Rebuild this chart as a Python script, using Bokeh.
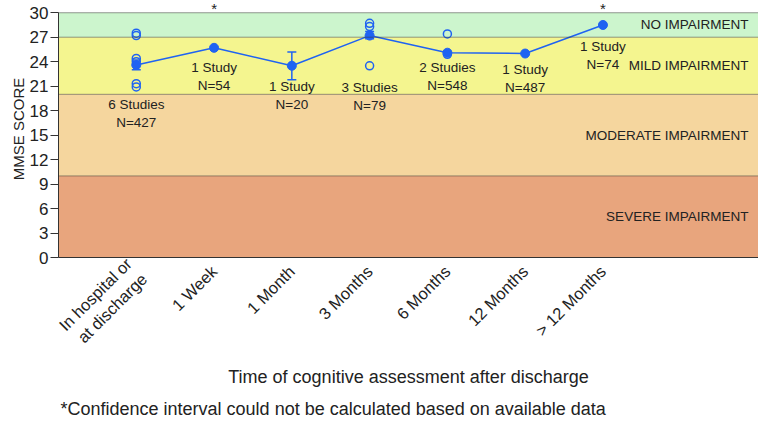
from bokeh.plotting import figure
from bokeh.models import (Range1d, FixedTicker, BoxAnnotation, Span, Whisker,
                          ColumnDataSource, Title)
from bokeh.core.properties import value
from bokeh.embed import file_html
from bokeh.resources import INLINE

# ---------------- data ----------------
categories = ["In hospital or\nat discharge", "1 Week", "1 Month", "3 Months",
              "6 Months", "12 Months", "> 12 Months"]
cat_pos = [1, 2, 3, 4, 5, 6, 7]
mean_score = [23.6, 25.7, 23.5, 27.2, 25.1, 25.0, 28.5]
ci_low = [23.0, None, 21.8, 26.8, None, None, None]
ci_high = [24.2, None, 25.2, 27.7, None, None, None]
study_labels = ["6 Studies\nN=427", "1 Study\nN=54", "1 Study\nN=20", "3 Studies\nN=79",
                "2 Studies\nN=548", "1 Study\nN=487", "1 Study\nN=74"]
label_y = [17.7, 22.2, 19.8, 19.7, 22.2, 22.0, 24.7]
no_ci = [2, 7]  # categories marked with asterisk

# individual study values (open circles)
study_x = [1, 1, 1, 1, 1, 1, 4, 4, 4, 5, 5]
study_val = [27.5, 27.2, 24.4, 24.0, 21.3, 20.9, 28.7, 28.3, 23.5, 27.4, 24.9]

# impairment zones
zone_names = ["NO IMPAIRMENT", "MILD IMPAIRMENT", "MODERATE IMPAIRMENT", "SEVERE IMPAIRMENT"]
zone_low = [27, 20, 10, 0]
zone_high = [30, 27, 20, 10]
zone_colors = ["#ccf5cd", "#f4f58f", "#f5d69e", "#e8a57d"]
zone_lines = [30, 27, 20, 10]

y_ticks = [0, 3, 6, 9, 12, 15, 18, 21, 24, 27, 30]
footnote = "*Confidence interval could not be calculated based on available data"

BLUE = "#1f63f2"
FONT = "Liberation Sans"
TXT = "#222222"

p = figure(width=758, height=424, output_backend="svg", toolbar_location=None,
           x_range=Range1d(0, 9.0), y_range=Range1d(0, 31.5),
           min_border_left=58, min_border_top=0, min_border_right=0,
           min_border_bottom=167)
p.outline_line_color = None
p.grid.visible = False
p.background_fill_color = "white"

for lo, hi, c in zip(zone_low, zone_high, zone_colors):
    p.add_layout(BoxAnnotation(bottom=lo, top=hi, fill_color=c, fill_alpha=1.0,
                               line_color=None, level="underlay"))
for v in zone_lines:
    p.add_layout(Span(location=v, dimension="width", line_color="#333333",
                      line_dash="1 1", line_width=1))

zone_mid = [(a + b) / 2 for a, b in zip(zone_low, zone_high)]
p.text(x=[8.87] * len(zone_names), y=zone_mid, text=zone_names,
       text_align="right", text_baseline="middle", text_font=value(FONT),
       text_font_size="13.5px", text_color=TXT)

# line through means
p.line(cat_pos, mean_score, line_color=BLUE, line_width=1.5)

# CI whiskers
wx = [x for x, l in zip(cat_pos, ci_low) if l is not None]
wl = [l for l in ci_low if l is not None]
wh = [h for h in ci_high if h is not None]
wsrc = ColumnDataSource(dict(x=wx, lower=wl, upper=wh))
w = Whisker(base="x", lower="lower", upper="upper", source=wsrc,
            line_color=BLUE, line_width=1.5)
for head in (w.upper_head, w.lower_head):
    head.size = 9
    head.line_color = BLUE
    head.line_width = 1.5
p.add_layout(w)

# individual studies
p.scatter(study_x, study_val, marker="circle", size=8, fill_color=None,
          line_color=BLUE, line_width=1.5)

# means
p.scatter(cat_pos, mean_score, marker="circle", size=9, fill_color=BLUE,
          line_color=BLUE)

# study labels
p.text(x=cat_pos, y=label_y, text=study_labels, text_align="center",
       text_baseline="middle", text_font=value(FONT), text_font_size="13.5px",
       text_color=TXT, text_line_height=1.2)

# asterisks
p.text(x=no_ci, y=[30.55] * len(no_ci), text=["*"] * len(no_ci), text_align="center",
       text_baseline="middle", text_font=value(FONT), text_font_size="15px",
       text_color=TXT)

# axes
p.yaxis.ticker = FixedTicker(ticks=y_ticks)
p.yaxis.bounds = (0, 30)
p.yaxis.minor_tick_line_color = None
p.yaxis.major_tick_out = 8
p.yaxis.major_tick_in = 0
p.yaxis.axis_label = "MMSE SCORE"
p.yaxis.axis_label_text_font_style = "normal"
p.yaxis.major_tick_line_color = "#333333"
p.yaxis.major_label_standoff = 2
p.yaxis.axis_label_standoff = 0

p.xaxis.ticker = FixedTicker(ticks=cat_pos)
p.xaxis.major_label_overrides = {x: c for x, c in zip(cat_pos, categories)}
p.xaxis.major_label_orientation = 0.785398
p.xaxis.major_tick_line_color = None
p.xaxis.minor_tick_line_color = None
p.xaxis.major_label_standoff = 5
p.xaxis.axis_label = "Time of cognitive assessment after discharge"
p.xaxis.axis_label_text_font_style = "normal"
p.xaxis.axis_label_standoff = 1

for ax in (p.xaxis, p.yaxis):
    ax.axis_line_color = "#333333"
    ax.major_label_text_font = FONT
    ax.axis_label_text_font = FONT
    ax.major_label_text_color = TXT
    ax.axis_label_text_color = TXT
p.xaxis.major_label_text_font_size = "16.5px"
p.xaxis.axis_label_text_font_size = "18px"
p.yaxis.major_label_text_font_size = "17px"
p.yaxis.axis_label_text_font_size = "15px"

foot = Title(text=footnote, align="left", text_font=FONT, text_font_size="18px",
             text_font_style="normal", text_color=TXT, offset=2, standoff=12)
p.add_layout(foot, "below")

open("out.html", "w").write(file_html(p, INLINE))
